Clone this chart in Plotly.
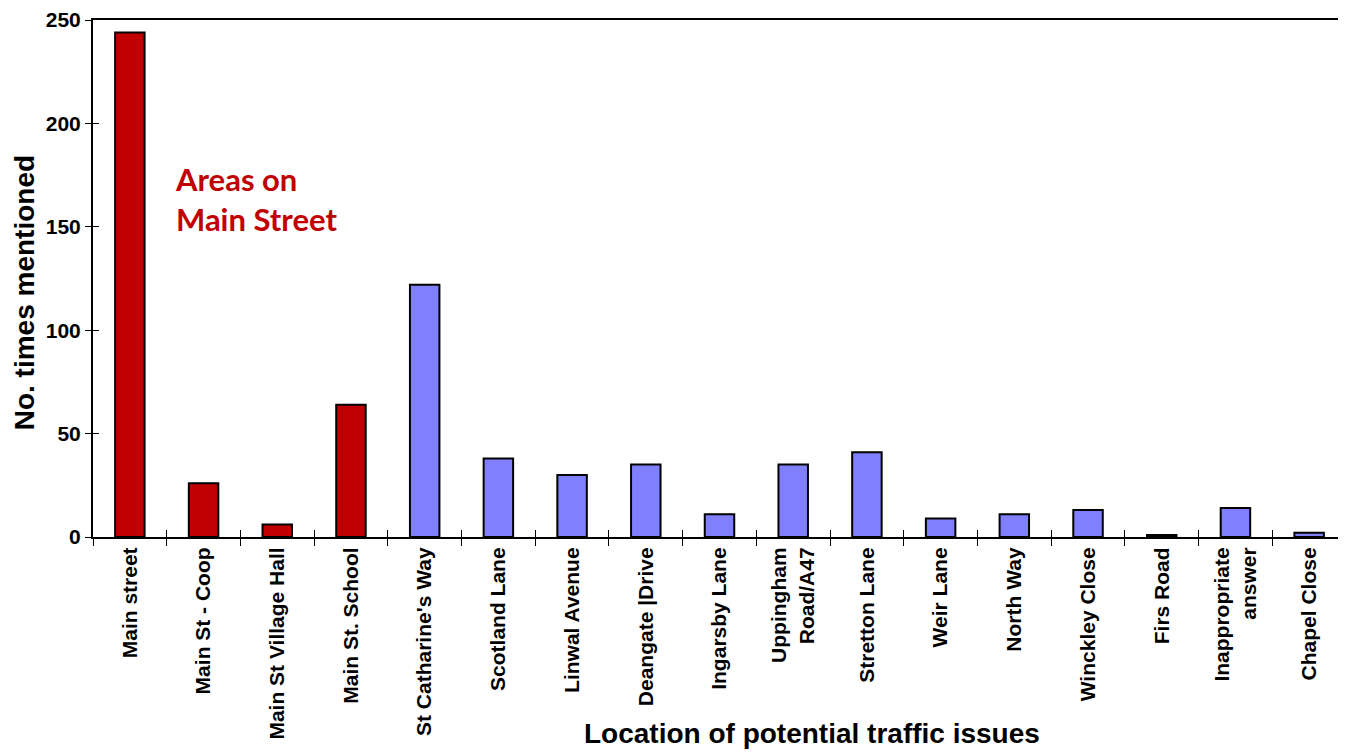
import plotly.graph_objects as go

categories = ["Main street", "Main St - Coop", "Main St Village Hall", "Main St. School",
              "St Catharine's Way", "Scotland Lane", "Linwal Avenue", "Deangate |Drive",
              "Ingarsby Lane", "Uppingham<br>Road/A47", "Stretton Lane", "Weir Lane",
              "North Way", "Winckley Close", "Firs Road", "Inappropriate<br>answer", "Chapel Close"]
values = [244, 26, 6, 64, 122, 38, 30, 35, 11, 35, 41, 9, 11, 13, 1, 14, 2]
main_street_flags = [1, 1, 1, 1, 0, 0, 0, 0, 0, 0, 0, 0, 0, 0, 0, 0, 0]

RED = "#C00000"
BLUE = "#8080FF"
colors = [RED if f else BLUE for f in main_street_flags]

fig = go.Figure()
fig.add_trace(go.Bar(
    x=categories, y=values, marker=dict(color=colors, line=dict(color="black", width=2)),
    width=0.4, showlegend=False, hoverinfo="x+y"))

font_bold = "Liberation Sans"
n = len(categories)

fig.update_layout(
    width=1338, height=745,
    margin=dict(l=85, r=0, t=10, b=216),
    paper_bgcolor="white", plot_bgcolor="white",
    font=dict(family=font_bold, color="black"),
    xaxis=dict(type="category", categoryorder="array", categoryarray=categories,
               range=[-0.5, n - 0.5], showline=True, linecolor="black", linewidth=2,
               mirror=True, ticks="outside", ticklen=7, tickwidth=1, tickcolor="black",
               tickson="boundaries", tickangle=-90, showgrid=False,
               tickfont=dict(family=font_bold, size=21, weight="bold")),
    yaxis=dict(range=[0, 250], dtick=50, showline=True, linecolor="black", linewidth=2,
               ticks="outside", ticklen=6, tickwidth=1, tickcolor="black", showgrid=False,
               zeroline=False, ticklabeloverflow="allow",
               tickfont=dict(family=font_bold, size=21, weight="bold")),
    xaxis2=dict(overlaying="x", type="linear", range=[-0.5, n - 0.5],
                tickvals=[i - 0.5 for i in range(n + 1)], ticks="inside", ticklen=7,
                tickwidth=1, tickcolor="black", showticklabels=False, showgrid=False,
                showline=False, zeroline=False, side="bottom", anchor="y"),
    yaxis2=dict(overlaying="y", range=[0, 250], dtick=50, ticks="inside", ticklen=6,
                tickwidth=1, tickcolor="black", showticklabels=False, showgrid=False,
                showline=False, zeroline=False, side="left", anchor="x"),
)

# invisible trace to activate the overlay axes (crossing tick marks)
fig.add_trace(go.Scatter(x=[0], y=[0], xaxis="x2", yaxis="y2", mode="markers",
                         marker=dict(opacity=0), showlegend=False, hoverinfo="skip"))

fig.add_annotation(text="Areas on<br>Main Street", xref="paper", yref="paper",
                   x=0.064, y=0.733, xanchor="left", yanchor="top", align="left",
                   showarrow=False,
                   font=dict(family="Lato", size=31, color=RED, weight="bold"))
fig.add_annotation(text="Location of potential traffic issues", xref="paper", yref="paper",
                   x=0.574, y=-0.381, xanchor="center", yanchor="middle", showarrow=False,
                   font=dict(family=font_bold, size=28, weight="bold"))
fig.add_annotation(text="No. times mentioned", xref="paper", yref="paper",
                   x=-0.054, y=0.472, xanchor="center", yanchor="middle", textangle=-90,
                   showarrow=False, font=dict(family=font_bold, size=28, weight="bold"))

fig.write_html("out.html")
